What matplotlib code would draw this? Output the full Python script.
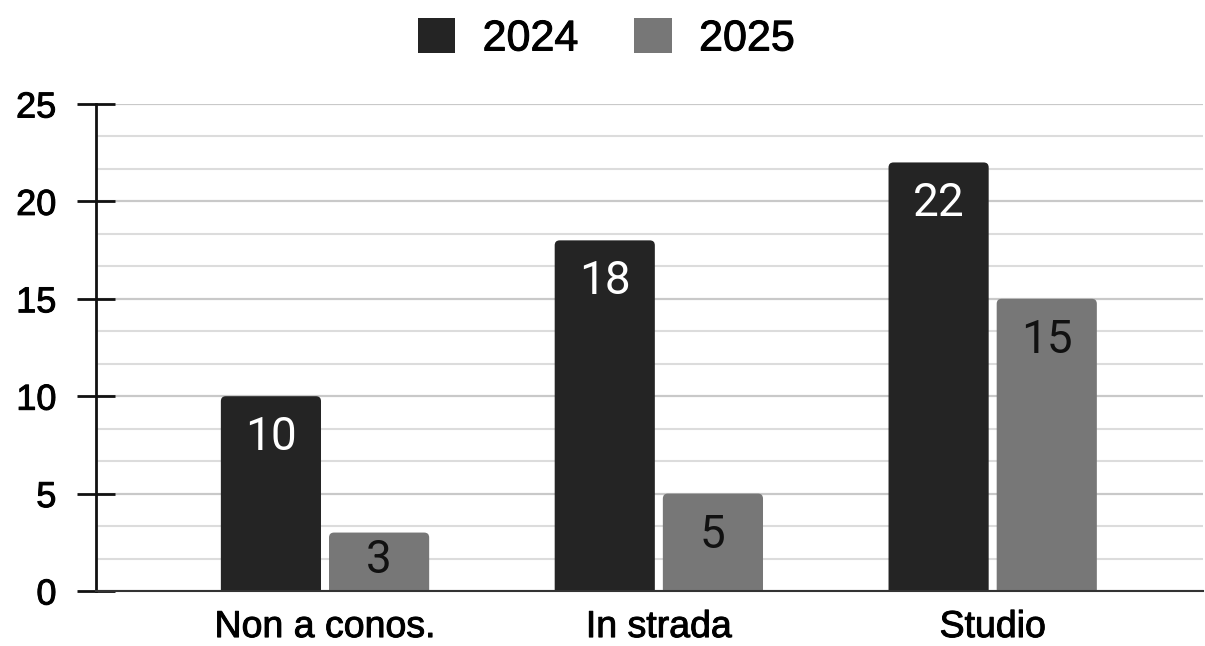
import matplotlib.pyplot as plt
import matplotlib.patches as patches
import matplotlib.patheffects as pe
from matplotlib.ticker import MultipleLocator
import numpy as np

categories = ["Non a conos.", "In strada", "Studio"]
years = ["2024", "2025"]
values_2024 = [10, 18, 22]
values_2025 = [3, 5, 15]

colors = ["#242424", "#777777"]
label_colors = ["white", "#111111"]

fig = plt.figure(figsize=(12.05, 6.46), dpi=100)
ax = fig.add_axes([96 / 1205, 55 / 646, (1203 - 96) / 1205, (591 - 104) / 646])

x = np.arange(len(categories))
width = 0.30
offset = 0.162

# rounded corners: x px per unit ~334, y px per unit ~19.5
aspect = 334 / 19.48
rs = 5 / 334

for i, (vals, col, lc) in enumerate(zip([values_2024, values_2025], colors, label_colors)):
    pos = x + (i * 2 - 1) * offset
    bars = ax.bar(pos, vals, width, color=col, label=years[i], zorder=3)
    for b, v in zip(bars, vals):
        b.set_visible(False)
        fp = patches.FancyBboxPatch((b.get_x(), -1), b.get_width(), v + 1,
                                    boxstyle=f"round,pad=0,rounding_size={rs}",
                                    mutation_aspect=aspect, facecolor=col,
                                    edgecolor="none", zorder=3)
        ax.add_patch(fp)
        ty = max(v - 2.1, v * 0.53)
        ax.text(b.get_x() + b.get_width() / 2, ty, str(v), ha="center", va="center",
                color=lc, fontsize=33, family="Roboto", zorder=4)

ax.set_xlim(-0.686, 2.63)
ax.set_ylim(0, 25)
ax.yaxis.set_major_locator(MultipleLocator(5))
ax.yaxis.set_minor_locator(MultipleLocator(5 / 3))
ax.grid(axis="y", which="major", color="#c9c9c9", linewidth=1.6, zorder=0)
ax.grid(axis="y", which="minor", color="#dcdcdc", linewidth=1.5, zorder=0)
ax.set_axisbelow(True)

for s in ["top", "right"]:
    ax.spines[s].set_visible(False)
ax.spines["left"].set_linewidth(2)
ax.spines["left"].set_color("#111111")
ax.spines["bottom"].set_linewidth(1.5)
ax.spines["bottom"].set_color("#333333")
ax.spines["bottom"].set_zorder(5)

ax.tick_params(axis="y", which="major", direction="inout", length=27, width=2,
               color="#111111", pad=15, labelsize=26)
ax.tick_params(axis="y", which="minor", length=0)
ax.set_xticks(x)
ax.set_xticklabels(categories)
ax.tick_params(axis="x", length=0, pad=13, labelsize=27)
thick = [pe.withStroke(linewidth=0.7, foreground="black")]
for lab in ax.get_xticklabels() + ax.get_yticklabels():
    lab.set_family("Liberation Sans")
    lab.set_path_effects(thick)

handles = [patches.FancyBboxPatch((0, 0), 1, 1, boxstyle="round,pad=0,rounding_size=0.1",
                                  facecolor=c, edgecolor="none") for c in colors]
leg = fig.legend(handles, years, loc="center", bbox_to_anchor=(0.503, 0.94), ncol=2,
                 frameon=False, prop={"family": "Liberation Sans", "size": 31},
                 handlelength=0.88, handleheight=0.88, handletextpad=0.63,
                 columnspacing=1.3)
for t in leg.get_texts():
    t.set_path_effects(thick)

plt.savefig("out.png", dpi=100)
